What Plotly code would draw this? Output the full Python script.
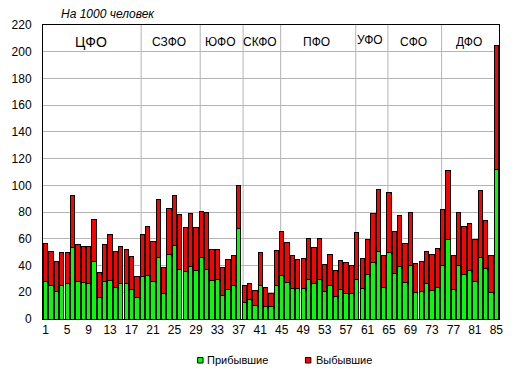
import plotly.graph_objects as go
import numpy as np

regions = list(range(1, 86))

arrived = [28.4, 25.4, 20.9, 25.4, 26.2, 53.8, 28.1, 27.6, 26.9, 43.3,
           16.4, 28.4, 29.1, 23.9, 26.9, 26.2, 22.4, 16.4, 32.1, 32.9,
           28.4, 46.3, 19.4, 48.6, 55.3, 37.4, 35.9, 39.6, 36.6, 46.3,
           37.4, 29.1, 29.9, 17.9, 22.4, 25.4, 68.0, 12.0, 14.9, 10.3,
           24.7, 9.7, 9.0, 25.4, 32.9, 27.6, 23.2, 23.2, 23.2, 29.9,
           26.2, 29.9, 20.9, 24.7, 17.2, 22.4, 19.4, 19.4, 29.9, 23.2,
           33.6, 42.6, 50.8, 23.9, 50.0, 34.4, 39.6, 27.6, 40.3, 20.2,
           20.9, 26.9, 21.7, 23.9, 40.3, 59.8, 22.4, 40.3, 33.6, 36.6,
           28.4, 46.3, 38.1, 20.2, 112.0]

departed = [28.4, 25.4, 22.4, 24.6, 23.8, 38.9, 27.9, 26.9, 27.6, 30.9,
            18.7, 27.1, 34.4, 26.9, 27.6, 26.1, 24.2, 15.2, 30.9, 36.6,
            29.9, 43.4, 19.5, 34.3, 37.4, 41.1, 32.8, 39.6, 32.1, 34.4,
            42.6, 23.2, 22.4, 21.0, 22.4, 22.4, 32.1, 13.4, 11.3, 11.4,
            25.3, 14.2, 10.4, 26.2, 32.9, 29.9, 24.6, 21.6, 22.4, 30.6,
            27.6, 30.6, 20.2, 23.9, 19.4, 21.7, 23.2, 20.9, 35.1, 22.4,
            26.2, 36.6, 46.3, 23.9, 44.9, 31.4, 38.1, 29.2, 39.7, 21.6,
            22.4, 23.9, 26.9, 29.1, 41.9, 51.5, 25.4, 39.7, 35.9, 35.1,
            31.4, 50.1, 35.9, 27.6, 92.3]

districts = ["ЦФО", "СЗФО", "ЮФО", "СКФО", "ПФО", "УФО", "СФО", "ДФО"]
district_sizes = [18, 11, 8, 7, 14, 6, 10, 11]

x_ticks = list(range(1, 86, 4))
y_ticks = list(range(0, 221, 20))

FONT = "Liberation Sans, Arial, sans-serif"

fig = go.Figure()
fig.add_trace(go.Bar(x=regions, y=arrived, name="Прибывшие",
                     marker=dict(color="#00ff00", line=dict(color="black", width=1)),
                     showlegend=False))
fig.add_trace(go.Bar(x=regions, y=departed, name="Выбывшие",
                     marker=dict(color="#ff0000", line=dict(color="black", width=1)),
                     showlegend=False))

# district separators and labels
ends = np.cumsum(district_sizes)
starts = ends - np.array(district_sizes) + 1
for b in ends[:-1]:
    fig.add_shape(type="line", xref="x", yref="paper", x0=b + 0.8, x1=b + 0.8,
                  y0=0, y1=1, line=dict(color="#b4b4b4", width=1), layer="below")
for name, s, e in zip(districts, starts, ends):
    fig.add_annotation(x=(s + e) / 2, y=208.5 if name == "УФО" else 207,
                       xref="x", yref="y", text=name, showarrow=False,
                       font=dict(family=FONT, size=14 if name == "ЦФО" else 12, color="black"))

fig.add_annotation(x=(58 - 42) / 461, y=1 + (25 - 14.5) / 294, xref="paper", yref="paper",
                   xanchor="left", yanchor="middle", showarrow=False,
                   text="<i>На 1000 человек</i>", font=dict(family=FONT, size=12, color="black"))

# legend (manual, small squares)
leg = [("Прибывшие", "#00ff00", 198.3, 206), ("Выбывшие", "#ff0000", 307.3, 315.7)]
for name, col, sx, tx in leg:
    fig.add_shape(type="rect", xref="paper", yref="paper",
                  x0=(sx - 42) / 461, x1=(sx + 5.5 - 42) / 461,
                  y0=(319 - 357.5) / 294, y1=(319 - 363) / 294,
                  fillcolor=col, line=dict(color="black", width=1))
    fig.add_annotation(x=(tx - 42) / 461, y=(319 - 360) / 294, xref="paper", yref="paper",
                       xanchor="left", yanchor="middle", showarrow=False, text=name,
                       font=dict(family=FONT, size=11, color="black"))

fig.update_layout(
    width=515, height=376,
    margin=dict(l=42, r=12, t=25, b=57, pad=0),
    barmode="stack", bargap=0.2,
    paper_bgcolor="white", plot_bgcolor="white",
    font=dict(family=FONT, size=12, color="black"),
    xaxis=dict(range=[0.5, 85.5], tickvals=x_ticks, ticktext=[str(v) for v in x_ticks],
               showgrid=False, showline=True, linecolor="black", linewidth=1, mirror=True,
               ticks="", tickfont=dict(size=12), zeroline=False),
    yaxis=dict(range=[0, 220], tickvals=y_ticks, showgrid=True, gridcolor="#b4b4b4",
               gridwidth=1, showline=True, linecolor="black", linewidth=1, mirror=True,
               ticks="", ticklabelstandoff=8, tickfont=dict(size=12), zeroline=False),
)

fig.write_html("out.html", config={"displayModeBar": False},
               post_script="document.body.style.margin='0';document.body.style.overflow='hidden';")
